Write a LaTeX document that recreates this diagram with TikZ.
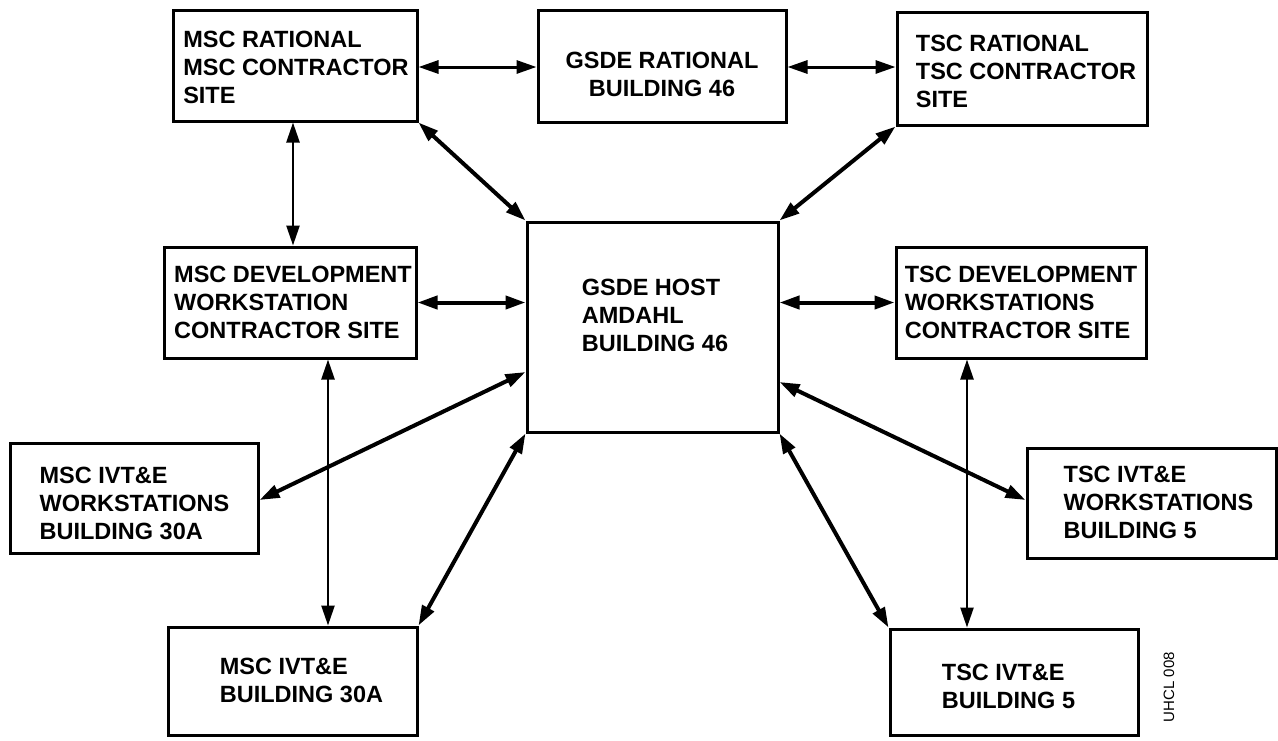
\documentclass[tikz,border=0pt]{standalone}
\usepackage{fontspec}
\setmainfont{Liberation Sans}
\usetikzlibrary{arrows.meta}
\begin{document}
\begin{tikzpicture}[x=1pt,y=-1pt,
  box/.style={draw, rectangle, line width=3pt, inner sep=0pt},
  txt/.style={inner sep=0pt, align=left, font=\fontsize{23.5pt}{28pt}\selectfont\bfseries},
  link/.style={<->, >={Triangle[length=20pt,width=13pt]}, line width=#1},
  link/.default=4pt]
\useasboundingbox (0,0) rectangle (1278,740);
% boxes
\node[box, minimum width=244pt, minimum height=111pt] (msr) at (295,65.5) {};
\node[box, minimum width=248pt, minimum height=112pt] (gsr) at (662,66) {};
\node[box, minimum width=250pt, minimum height=113pt] (tsr) at (1022,68.5) {};
\node[box, minimum width=251pt, minimum height=210pt] (host) at (652.5,327) {};
\node[box, minimum width=252pt, minimum height=111pt] (msd) at (290,302.5) {};
\node[box, minimum width=250pt, minimum height=111pt] (tsd) at (1021,302.5) {};
\node[box, minimum width=248pt, minimum height=110pt] (msw) at (134,498) {};
\node[box, minimum width=249pt, minimum height=110pt] (tsw) at (1151.5,503) {};
\node[box, minimum width=249pt, minimum height=108pt] (m30) at (292.5,681) {};
\node[box, minimum width=248pt, minimum height=106pt] (t5) at (1014,682) {};
% texts
\node[txt] (msrT) at (296,67.5) {MSC RATIONAL\\MSC CONTRACTOR\\SITE};
\node[txt, align=center] (gsrT) at (662,74.5) {GSDE RATIONAL\\BUILDING 46};
\node[txt] (tsrT) at (1026,71.5) {TSC RATIONAL\\TSC CONTRACTOR\\SITE};
\node[txt] (hostT) at (655,315.5) {GSDE HOST\\AMDAHL\\BUILDING 46};
\node[txt] (msdT) at (293,302.5) {MSC DEVELOPMENT\\WORKSTATION\\CONTRACTOR SITE};
\node[txt] (tsdT) at (1021,302) {TSC DEVELOPMENT\\WORKSTATIONS\\CONTRACTOR SITE};
\node[txt] (mswT) at (134.5,503) {MSC IVT\&E\\WORKSTATIONS\\BUILDING 30A};
\node[txt] (tswT) at (1158.5,502.5) {TSC IVT\&E\\WORKSTATIONS\\BUILDING 5};
\node[txt] (m30T) at (301.5,680) {MSC IVT\&E\\BUILDING 30A};
\node[txt] (t5T) at (1008.5,686) {TSC IVT\&E\\BUILDING 5};
\node[inner sep=0pt, rotate=90, font=\fontsize{15pt}{15pt}\selectfont] (code) at (1169,687) {UHCL 008};
% helper coordinates
\coordinate (xa) at (293,0);
\coordinate (xb) at (328,0);
\coordinate (xc) at (967,0);
\coordinate (ya) at (0,372);
\coordinate (yb) at (0,500);
\coordinate (yc) at (0,382);
\coordinate (yd) at (0,67);
% connectors
\draw[link=3pt] (msr.east |- yd) -- (gsr.west |- yd);
\draw[link=3pt] (gsr.east |- yd) -- (tsr.west |- yd);
\draw[link] (msr.south east) -- (host.north west);
\draw[link] (tsr.south west) -- (host.north east);
\draw[link=2.4pt] (msr.south -| xa) -- (msd.north -| xa);
\draw[link] (msd.east) -- (msd.east -| host.west);
\draw[link] (host.east |- tsd.west) -- (tsd.west);
\draw[link] (host.west |- ya) -- (msw.east |- yb);
\draw[link=2.4pt] (msd.south -| xb) -- (m30.north -| xb);
\draw[link] (host.south west) -- (m30.north east);
\draw[link] (host.east |- yc) -- (tsw.west |- yb);
\draw[link=2.4pt] (tsd.south -| xc) -- (t5.north -| xc);
\draw[link] (host.south east) -- (t5.north west);
\end{tikzpicture}
\end{document}
